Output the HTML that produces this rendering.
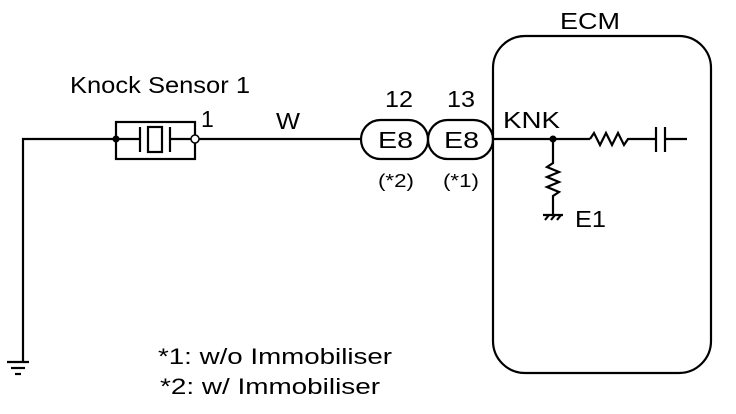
<!DOCTYPE html>
<html><head><style>body{margin:0;background:#fff}svg{display:block}text{font-family:"Liberation Sans",Arial,sans-serif;fill:#000}</style></head><body>
<svg width="736" height="414" viewBox="0 0 736 414" xmlns="http://www.w3.org/2000/svg">
<g stroke="#000" stroke-width="2.2" fill="none">
<rect x="493" y="36" width="218" height="337" rx="32"/>
<polyline points="23,362 23,139 116,139"/>
<line x1="7" y1="362" x2="29" y2="362"/>
<line x1="11" y1="368" x2="25" y2="368"/>
<line x1="15" y1="374" x2="21" y2="374"/>
<rect x="116" y="122" width="79" height="37"/>
<line x1="116" y1="139" x2="140" y2="139"/>
<line x1="140" y1="127" x2="140" y2="152"/>
<rect x="148" y="127" width="14" height="25"/>
<line x1="170" y1="127" x2="170" y2="152"/>
<line x1="170" y1="139" x2="191" y2="139"/>
<line x1="199" y1="139" x2="361" y2="139"/>
<rect x="361" y="120" width="67" height="39" rx="19.5"/>
<rect x="428" y="120" width="65" height="39" rx="19.5"/>
<line x1="493" y1="139" x2="590" y2="139"/>
<polyline points="590,139 594,133 600,145 606,133 612,145 618,133 624,145 628,139 656,139"/>
<line x1="656" y1="127" x2="656" y2="152"/>
<line x1="665" y1="127" x2="665" y2="152"/>
<line x1="665" y1="139" x2="687" y2="139"/>
<polyline points="553,139 553,163 547,167 559,172 547,177 559,182 547,187 559,192 553,196 553,215"/>
<line x1="543" y1="215" x2="563" y2="215"/>
<line x1="545" y1="220" x2="549" y2="215"/><line x1="551" y1="220" x2="555" y2="215"/><line x1="557" y1="220" x2="561" y2="215"/>
</g>
<circle cx="116" cy="139" r="3.5" fill="#000"/>
<circle cx="195" cy="139" r="4" fill="#fff" stroke="#000" stroke-width="1.5"/>
<circle cx="553" cy="139" r="3.5" fill="#000"/>
<g font-size="23">
<text x="70" y="93" textLength="180" lengthAdjust="spacingAndGlyphs">Knock Sensor 1</text>
<text x="201" y="127">1</text>
<text x="276" y="129" textLength="24" lengthAdjust="spacingAndGlyphs">W</text>
<text x="385" y="107" textLength="28" lengthAdjust="spacingAndGlyphs">12</text>
<text x="447" y="107" textLength="28" lengthAdjust="spacingAndGlyphs">13</text>
<text x="378" y="148" textLength="35" lengthAdjust="spacingAndGlyphs">E8</text>
<text x="444" y="148" textLength="35" lengthAdjust="spacingAndGlyphs">E8</text>
<text x="503" y="128" textLength="57" lengthAdjust="spacingAndGlyphs">KNK</text>
<text x="575" y="227" textLength="31" lengthAdjust="spacingAndGlyphs">E1</text>
<text x="560" y="29" textLength="60" lengthAdjust="spacingAndGlyphs">ECM</text>
</g>
<g font-size="18">
<text x="378" y="187" textLength="36" lengthAdjust="spacingAndGlyphs">(*2)</text>
<text x="443" y="187" textLength="36" lengthAdjust="spacingAndGlyphs">(*1)</text>
</g>
<g font-size="22">
<text x="158" y="364" textLength="234" lengthAdjust="spacingAndGlyphs">*1: w/o Immobiliser</text>
<text x="160" y="394" textLength="220" lengthAdjust="spacingAndGlyphs">*2: w/ Immobiliser</text>
</g>
</svg>
</body></html>
